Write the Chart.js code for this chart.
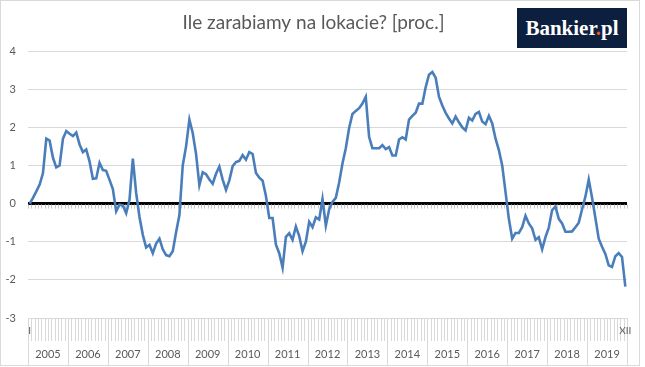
<!DOCTYPE html>
<html lang="pl">
<head>
<meta charset="utf-8">
<script src="https://cdn.jsdelivr.net/npm/chart.js@4.4.1/dist/chart.umd.min.js"></script>
<style>
  body { margin: 0; background: #fff; }
  #wrap { position: relative; width: 645px; height: 367px; }
  #logo {
    position: absolute; left: 517px; top: 8px; width: 110px; height: 40px;
    background: #0c1f3f; color: #fff; font-family: "Liberation Serif", serif;
    font-weight: bold; font-size: 21px; line-height: 40px; text-align: center;
  }
  #logo span { color: #e8542a; }
</style>
</head>
<body>
<div id="wrap">
  <canvas id="wykres" width="645" height="367"></canvas>
  <div id="logo">Bankier<span>.</span>pl</div>
</div>
<script>
// Lata i miesiące na osi X
const lata = [2005, 2006, 2007, 2008, 2009, 2010, 2011, 2012, 2013, 2014, 2015, 2016, 2017, 2018, 2019];
const miesiace = ['I', 'II', 'III', 'IV', 'V', 'VI', 'VII', 'VIII', 'IX', 'X', 'XI', 'XII'];

// Realne oprocentowanie lokat [proc.], miesięcznie od I 2005 do XII 2019
const zyskLokat = [
  0.0, 0.15, 0.32, 0.5, 0.8, 1.70, 1.65, 1.2, 0.95, 1.0, 1.7, 1.9,           // 2005
  1.83, 1.77, 1.86, 1.55, 1.35, 1.42, 1.1, 0.65, 0.66, 1.07, 0.88, 0.86,     // 2006
  0.62, 0.38, -0.2, -0.03, -0.05, -0.25, 0.1, 1.18, 0.28, -0.35, -0.82, -1.15, // 2007
  -1.08, -1.3, -1.05, -0.92, -1.2, -1.35, -1.38, -1.25, -0.75, -0.3, 1.0, 1.5, // 2008
  2.2, 1.85, 1.3, 0.48, 0.82, 0.77, 0.63, 0.52, 0.78, 0.97, 0.63, 0.36,      // 2009
  0.61, 0.98, 1.09, 1.12, 1.27, 1.15, 1.35, 1.3, 0.8, 0.68, 0.6, 0.2,        // 2010
  -0.38, -0.38, -1.08, -1.3, -1.68, -0.87, -0.78, -0.95, -0.6, -0.85, -1.25, -1.0, // 2011
  -0.48, -0.62, -0.36, -0.42, 0.12, -0.58, -0.15, 0.04, 0.15, 0.55, 1.05, 1.45, // 2012
  1.98, 2.35, 2.43, 2.5, 2.62, 2.8, 1.75, 1.45, 1.45, 1.45, 1.53, 1.43,      // 2013
  1.48, 1.26, 1.26, 1.68, 1.74, 1.68, 2.2, 2.3, 2.38, 2.62, 2.62, 3.05,      // 2014
  3.38, 3.45, 3.3, 2.8, 2.57, 2.38, 2.23, 2.1, 2.28, 2.13, 2.0, 1.92,        // 2015
  2.25, 2.18, 2.35, 2.4, 2.15, 2.08, 2.3, 2.1, 1.7, 1.4, 1.0, 0.3,           // 2016
  -0.4, -0.92, -0.77, -0.77, -0.62, -0.32, -0.52, -0.65, -0.95, -0.88, -1.2, -0.88, // 2017
  -0.63, -0.17, -0.08, -0.4, -0.52, -0.74, -0.74, -0.73, -0.62, -0.5, -0.15, 0.18, // 2018
  0.63, 0.15, -0.38, -0.92, -1.13, -1.32, -1.62, -1.66, -1.38, -1.3, -1.4, -2.18   // 2019
];

// Etykiety osi Y
const osY = { min: -3, max: 4, krok: 1 };

const etykiety = [];
lata.forEach(rok => miesiace.forEach(m => etykiety.push(m + ' ' + rok)));

const SZARY = '#595959';
const FONT = 'Lato, "Open Sans", sans-serif';

// Rysowanie ramki, kresek przy zerze i dwupoziomowej osi kategorii (jak w Excelu)
const osKategorii = {
  id: 'osKategorii',
  beforeDatasetsDraw(chart) {
    const { ctx, scales: { x, y } } = chart;
    const y0 = y.getPixelForValue(0);
    const szer = x.width / etykiety.length;
    ctx.save();
    ctx.strokeStyle = '#c8c8c8';
    ctx.lineWidth = 1;
    ctx.beginPath();
    for (let i = 0; i <= etykiety.length; i++) {
      const px = Math.round(x.left + i * szer) + 0.5;
      ctx.moveTo(px, y0 + 1);
      ctx.lineTo(px, y0 + 5);
    }
    ctx.stroke();
    ctx.restore();
  },
  afterDraw(chart) {
    const { ctx, scales: { x, y } } = chart;
    const dol = y.getPixelForValue(osY.min);
    const szer = x.width / etykiety.length;
    ctx.save();
    // ramka całego wykresu
    ctx.strokeStyle = '#d9d9d9';
    ctx.lineWidth = 1;
    ctx.strokeRect(0.5, 0.5, 639, 365);

    ctx.beginPath();
    for (let i = 0; i <= etykiety.length; i++) {
      const px = Math.round(x.left + i * szer) + 0.5;
      ctx.moveTo(px, dol);
      ctx.lineTo(px, i % 12 === 0 ? dol + 47 : dol + 23);
    }
    ctx.stroke();

    ctx.fillStyle = SZARY;
    ctx.textAlign = 'center';
    ctx.textBaseline = 'middle';
    ctx.font = '10px ' + FONT;
    ctx.fillText(miesiace[0], x.getPixelForValue(0), dol + 13);
    ctx.fillText(miesiace[11], x.getPixelForValue(etykiety.length - 1), dol + 13);

    ctx.font = '11px ' + FONT;
    lata.forEach((rok, k) => {
      const px = (x.getPixelForValue(k * 12) + x.getPixelForValue(k * 12 + 11)) / 2;
      ctx.fillText(String(rok), px, dol + 36);
    });
    ctx.restore();
  }
};

new Chart(document.getElementById('wykres'), {
  type: 'line',
  data: {
    labels: etykiety,
    datasets: [{
      label: 'Zysk z lokat',
      data: zyskLokat,
      borderColor: '#4a7ebb',
      borderWidth: 2.6,
      pointRadius: 0,
      tension: 0,
      fill: false
    }]
  },
  options: {
    responsive: false,
    animation: false,
    layout: { padding: { left: 0, right: 18, top: 0, bottom: 49 } },
    plugins: {
      legend: { display: false },
      tooltip: { enabled: false },
      title: {
        display: true,
        text: 'Ile zarabiamy na lokacie? [proc.]',
        color: SZARY,
        font: { family: FONT, size: 19, weight: 'normal', lineHeight: 1.2 },
        padding: { top: 11, bottom: 17.2 }
      }
    },
    scales: {
      x: {
        type: 'category',
        offset: true,
        grid: { display: false },
        border: { display: false },
        ticks: { display: false },
        afterFit(scale) { scale.height = 0; }
      },
      y: {
        min: osY.min,
        max: osY.max,
        border: { display: false },
        grid: {
          drawTicks: false,
          color: c => c.tick.value === 0 ? '#000000' : '#d9d9d9',
          lineWidth: c => c.tick.value === 0 ? 3 : 1
        },
        ticks: {
          stepSize: osY.krok,
          padding: 12,
          color: SZARY,
          font: { family: FONT, size: 11 }
        },
        afterFit(scale) { scale.width = 28; }
      }
    }
  },
  plugins: [osKategorii]
});
</script>
</body>
</html>
